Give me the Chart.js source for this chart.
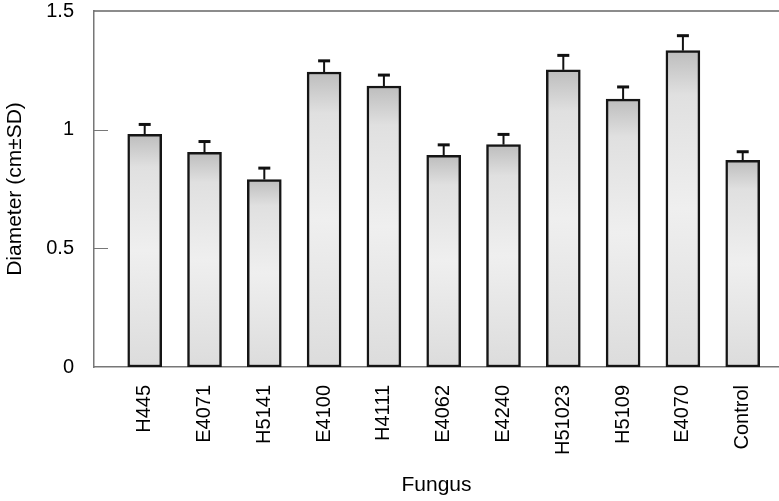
<!DOCTYPE html>
<html>
<head>
<meta charset="utf-8">
<script src="https://cdn.jsdelivr.net/npm/chart.js@4.4.1/dist/chart.umd.min.js"></script>
<style>
  html, body { margin: 0; padding: 0; background: #fff; }
  #wrap { width: 779px; height: 501px; }
</style>
</head>
<body>
<div id="wrap"><canvas id="fungusChart" width="779" height="501"></canvas></div>
<script>
// fungus isolates along the x axis
var fungus = ["H445", "E4071", "H5141", "E4100", "H4111", "E4062", "E4240", "H51023", "H5109", "E4070", "Control"];
// mean diameter (cm) and SD
var diameter = [0.98, 0.905, 0.79, 1.243, 1.184, 0.892, 0.937, 1.252, 1.129, 1.333, 0.871];
var diameterSD = [0.042, 0.045, 0.048, 0.047, 0.046, 0.044, 0.043, 0.061, 0.051, 0.063, 0.036];
// y tick values
var yTicks = [0, 0.5, 1, 1.5];

var fontFamily = "'Liberation Sans', Arial, Helvetica, sans-serif";

// error bars, inward y ticks and the top frame line
var extrasPlugin = {
    id: "extras",
    afterDatasetsDraw: function(chart) {
        var ctx = chart.ctx;
        var yScale = chart.scales.y;
        var area = chart.chartArea;
        var meta = chart.getDatasetMeta(0);

        ctx.save();
        ctx.strokeStyle = "#111";
        for (var i = 0; i < meta.data.length; i++) {
            var bar = meta.data[i];
            var yTop = yScale.getPixelForValue(diameter[i] + diameterSD[i]);
            ctx.lineWidth = 2;
            ctx.beginPath();
            ctx.moveTo(bar.x, bar.y);
            ctx.lineTo(bar.x, yTop);
            ctx.stroke();
            ctx.lineWidth = 3;
            ctx.beginPath();
            ctx.moveTo(bar.x - 6, yTop);
            ctx.lineTo(bar.x + 6, yTop);
            ctx.stroke();
        }

        // top frame line
        ctx.strokeStyle = "#666";
        ctx.lineWidth = 1.5;
        ctx.beginPath();
        ctx.moveTo(area.left, area.top);
        ctx.lineTo(area.right, area.top);
        ctx.stroke();

        // short ticks pointing into the plot
        ctx.strokeStyle = "#777";
        ctx.lineWidth = 1;
        yTicks.forEach(function(t) {
            if (t === 0 || t === 1.5) return;
            var py = Math.round(yScale.getPixelForValue(t)) + 0.5;
            ctx.beginPath();
            ctx.moveTo(area.left, py);
            ctx.lineTo(area.left + 14, py);
            ctx.stroke();
        });
        ctx.restore();
    }
};

function barFill(c) {
    var chart = c.chart;
    var area = chart.chartArea;
    if (!area) return "#e4e4e4";
    var top = chart.scales.y.getPixelForValue(diameter[c.dataIndex]);
    var g = chart.ctx.createLinearGradient(0, top, 0, area.bottom);
    g.addColorStop(0, "#bdbdbd");
    g.addColorStop(0.14, "#e0e0e0");
    g.addColorStop(0.5, "#efefef");
    g.addColorStop(1, "#dcdcdc");
    return g;
}

var ctx = document.getElementById("fungusChart");
var myChart = new Chart(ctx, {
    type: "bar",
    data: {
        datasets: [{
            label: "Diameter",
            data: diameter.map(function(v, i) { return {x: i, y: v}; }),
            backgroundColor: barFill,
            borderColor: "#151515",
            borderWidth: 2.5,
            borderSkipped: false,
            barThickness: 34
        }]
    },
    options: {
        responsive: false,
        devicePixelRatio: 1,
        animation: false,
        layout: { padding: { top: 11, right: 0, bottom: 0, left: 0 } },
        plugins: {
            legend: { display: false },
            tooltip: { enabled: false }
        },
        scales: {
            x: {
                type: "linear",
                offset: false,
                min: -0.848,
                max: 10.607,
                grid: { display: false, drawTicks: false, offset: false },
                border: { display: true, color: "#777", width: 1.5 },
                afterBuildTicks: function(scale) {
                    scale.ticks = fungus.map(function(_, i) { return {value: i}; });
                },
                afterFit: function(scale) {
                    scale.height = 134;
                    scale.paddingTop = 0;
                    scale.paddingBottom = 0;
                    scale.paddingLeft = 0;
                    scale.paddingRight = 0;
                },
                ticks: {
                    autoSkip: false,
                    minRotation: 90,
                    maxRotation: 90,
                    padding: 18,
                    color: "#000",
                    font: { family: fontFamily, size: 20 },
                    callback: function(value) { return fungus[value] !== undefined ? fungus[value] : ""; }
                },
                title: {
                    display: true,
                    text: "Fungus",
                    color: "#000",
                    font: { family: fontFamily, size: 21 },
                    padding: { top: 0, bottom: 3 }
                }
            },
            y: {
                min: 0,
                max: 1.5,
                grid: { display: false, drawTicks: false },
                border: { display: true, color: "#777", width: 1.5 },
                afterBuildTicks: function(scale) {
                    scale.ticks = yTicks.map(function(v) { return {value: v}; });
                },
                afterFit: function(scale) {
                    scale.width = 94;
                    scale.paddingTop = 0;
                    scale.paddingBottom = 0;
                },
                ticks: {
                    padding: 20,
                    color: "#000",
                    font: { family: fontFamily, size: 20 },
                    callback: function(value) { return String(value); }
                },
                title: {
                    display: true,
                    text: "Diameter (cm±SD)",
                    color: "#000",
                    font: { family: fontFamily, size: 21 },
                    padding: { top: 3, bottom: 0 }
                }
            }
        }
    },
    plugins: [extrasPlugin]
});
</script>
</body>
</html>
